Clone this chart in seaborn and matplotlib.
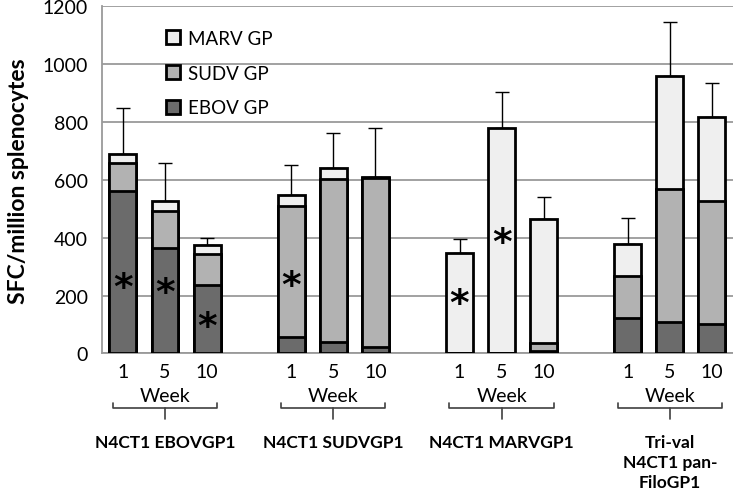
import numpy as np
import pandas as pd
import matplotlib.pyplot as plt
import matplotlib.transforms as mtransforms
import seaborn as sns

# Data
groups = ["N4CT1 EBOVGP1", "N4CT1 SUDVGP1", "N4CT1 MARVGP1", "Tri-val\nN4CT1 pan-\nFiloGP1"]
weeks = ["1", "5", "10"]
ebov = [560, 365, 237, 56, 41, 21, 0, 0, 10, 123, 108, 100]
sudv = [97, 127, 107, 453, 563, 584, 0, 0, 25, 145, 461, 428]
marv = [31, 36, 31, 37, 37, 3, 348, 777, 429, 111, 390, 290]
err_up = [160, 129, 25, 104, 119, 171, 46, 127, 77, 89, 185, 115]
star_y = [258, 240, 123, 265, None, None, 203, 414, None, None, None, None]

colors = {"EBOV GP": "#6b6b6b", "SUDV GP": "#b2b2b2", "MARV GP": "#efefef"}

# one empty slot between groups
pos = [g * 4 + w for g in range(len(groups)) for w in range(len(weeks))]
df = pd.DataFrame({
    "pos": pos,
    "week": weeks * len(groups),
    "ebov": ebov,
    "sudv": sudv,
    "marv": marv,
    "err": err_up,
})
df["lvl1"] = df["ebov"]
df["lvl2"] = df["ebov"] + df["sudv"]
df["total"] = df["lvl2"] + df["marv"]

sns.set_style("white")
plt.rcParams["font.family"] = ["Lato", "DejaVu Sans"]
plt.rcParams["text.color"] = "black"
plt.rcParams["xtick.color"] = "black"
plt.rcParams["ytick.color"] = "black"
plt.rcParams["axes.labelcolor"] = "black"

fig = plt.figure(figsize=(7.33, 5.02), dpi=100)
ax = fig.add_axes([0.139, 0.294, 0.861, 0.692])

# stacked bars: draw cumulative heights back to front
for col, name in [("total", "MARV GP"), ("lvl2", "SUDV GP"), ("lvl1", "EBOV GP")]:
    sns.barplot(data=df, x="pos", y=col, native_scale=True, width=0.64,
                color=colors[name], edgecolor="black", linewidth=2,
                saturation=1, ax=ax, label=name, zorder=3)

ax.errorbar(df["pos"], df["total"], yerr=[np.zeros(len(df)), df["err"]],
            fmt="none", ecolor="black", elinewidth=1, capsize=5, capthick=1, zorder=2)

star_tr = mtransforms.offset_copy(ax.transData, fig=fig, y=-9, units="dots")
for x, y in zip(df["pos"], star_y):
    if y is not None:
        ax.text(x, y, "*", ha="center", va="center", fontsize=27, color="black",
                fontweight="bold", family="DejaVu Sans", transform=star_tr, zorder=5)

ax.set_xlim(-0.5, 14.5)
ax.set_ylim(0, 1200)
ax.set_yticks(range(0, 1201, 200))
ax.set_xticks(df["pos"])
ax.set_xticklabels(df["week"])
ax.tick_params(axis="both", length=0, labelsize=14)
ax.tick_params(axis="x", pad=7)
ax.tick_params(axis="y", pad=10)
ax.yaxis.grid(True, color="#9a9a9a", linewidth=1.3, zorder=0)
ax.set_axisbelow(True)
for s in ["top", "right"]:
    ax.spines[s].set_visible(False)
for s in ["left", "bottom"]:
    ax.spines[s].set_color("#9a9a9a")
    ax.spines[s].set_linewidth(1.3)
ax.set_xlabel("")
ax.set_ylabel("SFC/million splenocytes", fontsize=16.5, fontweight="bold", labelpad=10)

# Week brackets and group names below the axis
trans = mtransforms.blended_transform_factory(ax.transData, ax.transAxes)
for g, gname in enumerate(groups):
    c = g * 4 + 1
    ax.text(c, -0.12, "Week", transform=trans, ha="center", va="center", fontsize=14)
    kw = dict(transform=trans, color="#404040", linewidth=1.2, clip_on=False)
    ax.plot([c - 1.24, c - 1.24, c + 1.24, c + 1.24], [-0.143, -0.157, -0.157, -0.143], **kw)
    ax.plot([c, c], [-0.157, -0.19], **kw)
    ax.text(c, -0.232, gname, transform=trans, ha="center", va="top", fontsize=12.5,
            fontweight="bold", linespacing=1.3)

handles, labels = ax.get_legend_handles_labels()
order = [labels.index(n) for n in ["MARV GP", "SUDV GP", "EBOV GP"]]
ax.legend([handles[i] for i in order], [labels[i] for i in order],
          loc="upper left", bbox_to_anchor=(0.075, 0.98), frameon=False,
          fontsize=13.5, handlelength=0.75, handleheight=0.75, handletextpad=0.4,
          labelspacing=0.95)

fig.savefig("out.png", dpi=100)
